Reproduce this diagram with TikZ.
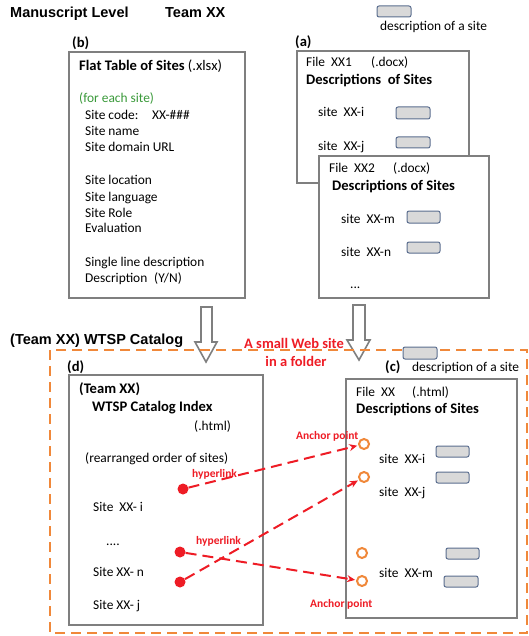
\documentclass[tikz,border=0pt]{standalone}
\usepackage{fontspec}
\setmainfont{Carlito}
\newfontfamily\arialb{Liberation Sans}[BoldFont={Liberation Sans Bold}]
\usetikzlibrary{arrows.meta}
\definecolor{boxgray}{HTML}{7F7F7F}
\definecolor{descfill}{HTML}{D9D9D9}
\definecolor{descline}{HTML}{5B6E8F}
\definecolor{linkred}{HTML}{EE1C25}
\definecolor{orng}{HTML}{F0883A}
\definecolor{grn}{HTML}{3A9A3A}
\tikzset{
  txt/.style={anchor=base west, inner sep=0pt, font=\fontsize{13.4}{15}\selectfont},
  btxt/.style={anchor=base west, inner sep=0pt, font=\fontsize{14.6}{16}\selectfont\bfseries},
  ttl/.style={anchor=base west, inner sep=0pt, font=\fontsize{14.5}{16}\selectfont\arialb\bfseries},
  redlbl/.style={anchor=base west, inner sep=0pt, text=linkred, font=\fontsize{11.5}{13}\selectfont\bfseries},
  bigred/.style={anchor=base, inner sep=0pt, text=linkred, font=\fontsize{14.5}{16}\selectfont\bfseries},
  panel/.style={draw=boxgray, line width=1.5pt, fill=white},
  descbox/.style={draw=descline, line width=1pt, fill=descfill, rounded corners=2pt},
  blockarrow/.style={draw=boxgray, line width=1.6pt, fill=white, line join=miter},
  reddot/.style={circle, fill=linkred, inner sep=0pt, minimum size=11pt},
  anchorpt/.style={circle, draw=orng, line width=2pt, fill=white, inner sep=0pt, minimum size=10pt},
  hlink/.style={draw=linkred, line width=2pt, dash pattern=on 11pt off 6pt, -{Stealth[length=8pt,width=7pt]}, shorten >=1pt},
}
\begin{document}
\begin{tikzpicture}[x=1pt,y=-1pt]
\useasboundingbox (0,0) rectangle (529,636);

% titles
\node[ttl] (t1) at (10,18) {Manuscript Level};
\node[ttl] (t2) at (165,18) {Team XX};
\node[descbox, minimum width=34pt, minimum height=11pt] (leg1) at (394,11.5) {};
\node[txt] (leg1t) at (380,31) {description of a site};

% (b) flat table
\node[btxt] (lb) at (72,48) {(b)};
\draw[panel] (69,52) rectangle (245,298);
\node[btxt] (b1) at (79,71) {Flat Table of Sites\mdseries\ (.xlsx)};
\node[txt, text=grn] (b2) at (79,103) {(for each site)};
\node[txt] (b3) at (85,120) {Site code:};
\node[txt] (b3b) at (152,120) {XX-\#\#\#};
\node[txt] (b4) at (85,136) {Site name};
\node[txt] (b5) at (85,152) {Site domain URL};
\node[txt] (b6) at (85,185) {Site location};
\node[txt] (b7) at (85,202) {Site language};
\node[txt] (b8) at (85,217) {Site Role};
\node[txt] (b9) at (85,233) {Evaluation};
\node[txt] (b10) at (85,266) {Single line description};
\node[txt] (b11) at (85,282) {Description};
\node[txt] (b11b) at (154,282) {(Y/N)};

% (a) docx files
\node[btxt] (la) at (295,47) {(a)};
\draw[panel] (297,51) rectangle (469,183);
\node[txt] (a1) at (306,67) {File\ \ XX1};
\node[txt] (a1b) at (371,67) {(.docx)};
\node[btxt] (a2) at (306,85) {Descriptions\ \ of Sites};
\node[txt] (a3) at (318,117) {site\ \ XX-i};
\node[descbox, minimum width=34pt, minimum height=12pt] (a3d) at (413,113) {};
\node[txt] (a4) at (318,151) {site\ \ XX-j};
\node[descbox, minimum width=34pt, minimum height=11pt] (a4d) at (413,142.5) {};

\draw[panel] (319,156) rectangle (489,298);
\node[txt] (c1) at (329,173) {File\ \ XX2};
\node[txt] (c1b) at (393,173) {(.docx)};
\node[btxt] (c2) at (332,190) {Descriptions of Sites};
\node[txt] (c3) at (341,223) {site\ \ XX-m};
\node[descbox, minimum width=33pt, minimum height=12pt] (c3d) at (423.5,217) {};
\node[txt] (c4) at (341,256) {site\ \ XX-n};
\node[descbox, minimum width=33pt, minimum height=11pt] (c4d) at (423.5,247.5) {};
\node[txt] (c5) at (350,288) {...};

% block arrows
\draw[blockarrow] (201,307) -- (212,307) -- (212,342) -- (217,342) -- (206,362) -- (195,342) -- (201,342) -- cycle;
\draw[blockarrow] (353,305) -- (365,305) -- (365,340) -- (370,340) -- (359,360) -- (347,340) -- (353,340) -- cycle;

% catalog
\node[ttl] (t3) at (10,344) {(Team XX) WTSP Catalog};
\draw[draw=orng, line width=2pt, dash pattern=on 10pt off 6pt] (50,350) rectangle (527,633);
\node[bigred] (w1) at (294,348) {A small Web site};
\node[bigred] (w2) at (296,366) {in a folder};

% (d) index
\node[btxt] (ld) at (67,371) {(d)};
\draw[panel] (69,375) rectangle (263,625);
\node[btxt] (d1) at (79,393) {(Team XX)};
\node[btxt] (d2) at (92,411) {WTSP Catalog Index};
\node[txt] (d3) at (194,430) {(.html)};
\node[txt] (d4) at (85,462) {(rearranged order of sites)};
\node[txt] (d5) at (93,511) {Site\ \ XX- i};
\node[txt] (d6) at (106,545) {....};
\node[txt] (d7) at (93,576) {Site\ XX- n};
\node[txt] (d8) at (93,609) {Site\ XX- j};

% (c) html
\node[descbox, minimum width=34pt, minimum height=12pt] (leg2) at (420,353) {};
\node[btxt] (lc) at (385,371) {(c)};
\node[txt] (leg2t) at (412,371) {description of a site};
\draw[panel] (346,379) rectangle (517,618);
\node[txt] (e1) at (356,396) {File\ \ XX};
\node[txt] (e1b) at (412,396) {(.html)};
\node[btxt] (e2) at (356,413) {Descriptions of Sites};
\node[txt] (e3) at (379,463) {site\ \ XX-i};
\node[descbox, minimum width=33pt, minimum height=11pt] (e3d) at (452.5,451.5) {};
\node[txt] (e4) at (379,496) {site\ \ XX-j};
\node[descbox, minimum width=33pt, minimum height=11pt] (e4d) at (452.5,477.5) {};
\node[descbox, minimum width=33pt, minimum height=11pt] (e5d) at (462.5,553.5) {};
\node[txt] (e5) at (379,577) {site\ \ XX-m};
\node[descbox, minimum width=34pt, minimum height=11pt] (e6d) at (461,581.5) {};

% anchor points
\node[anchorpt] (p1) at (364,444) {};
\node[anchorpt] (p2) at (364,477) {};
\node[anchorpt] (p3) at (362,553) {};
\node[anchorpt] (p4) at (362,581) {};
\node[redlbl] (ap1) at (296,439) {Anchor point};
\node[redlbl] (ap2) at (310,607) {Anchor point};

% hyperlinks
\node[reddot] (h1) at (183,489) {};
\node[reddot] (h2) at (180,552) {};
\node[reddot] (h3) at (180,582) {};
\node[redlbl] (hl1) at (192,477) {hyperlink};
\node[redlbl] (hl2) at (196,544) {hyperlink};
\draw[hlink] (h1) -- (p1);
\draw[hlink] (h3) -- (p2);
\draw[hlink] (h2) -- (p4);
\end{tikzpicture}
\end{document}
